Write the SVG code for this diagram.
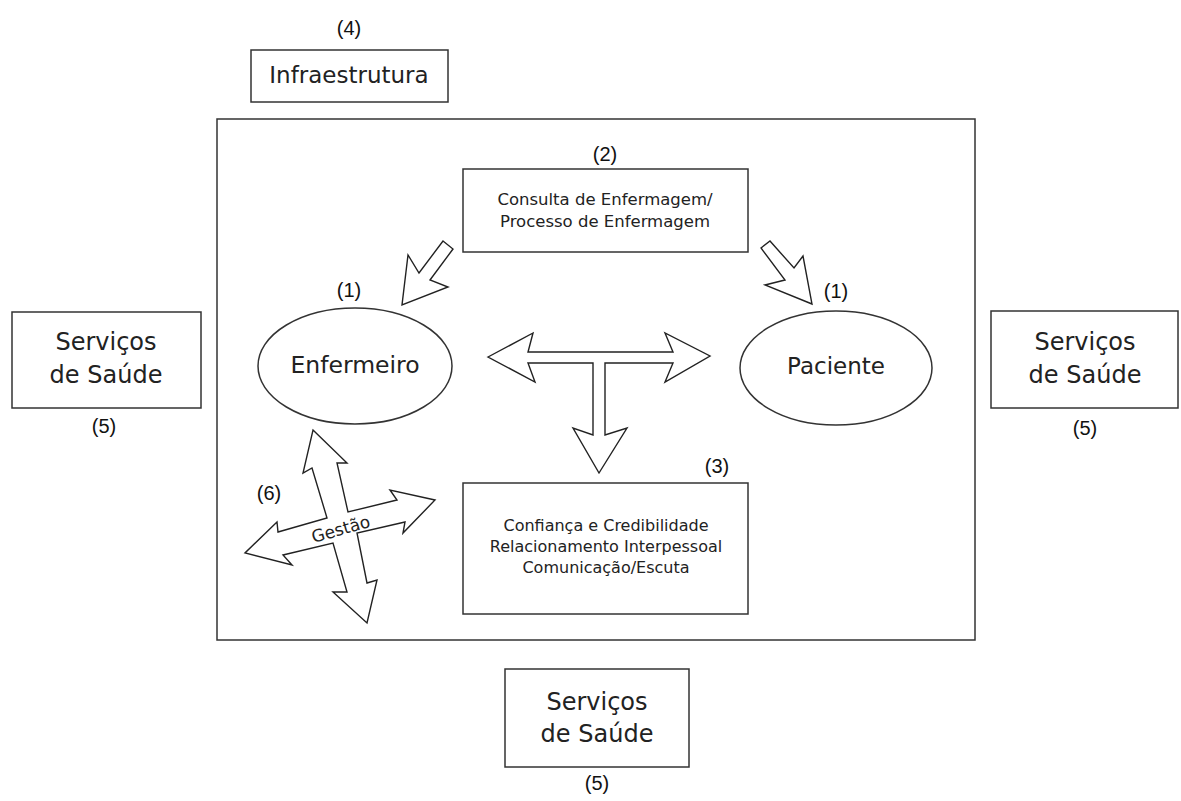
<svg xmlns="http://www.w3.org/2000/svg" width="1181" height="801" viewBox="0 0 1181 801">
<style>
.box{fill:#fff;stroke:#333;stroke-width:1.5}
.frame{fill:none;stroke:#333;stroke-width:1.5}
.arrow{fill:#fff;stroke:#222;stroke-width:1.4;stroke-linejoin:miter}
.t{font-family:"DejaVu Sans",sans-serif;fill:#222;text-anchor:middle}
.n{font-family:"Liberation Sans",Arial,sans-serif;font-size:20px;fill:#111;text-anchor:middle}
</style>
<rect width="1181" height="801" fill="#fff"/>
<g id="frame"><rect class="frame" x="217" y="119" width="758" height="521"/></g>
<g id="infraestrutura">
<text class="n" x="349" y="35">(4)</text>
<rect class="box" x="251" y="50" width="197" height="52"/>
<text class="t" x="349" y="83" font-size="23">Infraestrutura</text>
</g>
<g id="consulta">
<text class="n" x="605" y="161">(2)</text>
<rect class="box" x="463" y="169" width="285" height="83"/>
<text class="t" x="605" y="205" font-size="16.5">Consulta de Enfermagem/</text>
<text class="t" x="605" y="227" font-size="16.5">Processo de Enfermagem</text>
</g>
<g id="enfermeiro">
<text class="n" x="349" y="297">(1)</text>
<ellipse class="box" cx="355" cy="366" rx="97" ry="58"/>
<text class="t" x="355" y="373" font-size="23.5">Enfermeiro</text>
</g>
<g id="paciente">
<text class="n" x="836" y="298">(1)</text>
<ellipse class="box" cx="836" cy="368" rx="96" ry="57"/>
<text class="t" x="836" y="374" font-size="23">Paciente</text>
</g>
<g id="relacionamento">
<text class="n" x="717" y="473">(3)</text>
<rect class="box" x="463" y="483" width="285" height="131"/>
<text class="t" x="606" y="531" font-size="16">Confiança e Credibilidade</text>
<text class="t" x="606" y="552" font-size="16">Relacionamento Interpessoal</text>
<text class="t" x="606" y="573" font-size="16">Comunicação/Escuta</text>
</g>
<g id="servicos-esquerda">
<rect class="box" x="12" y="312" width="189" height="96"/>
<text class="t" x="106" y="350" font-size="24">Serviços</text>
<text class="t" x="106" y="383" font-size="24">de Saúde</text>
<text class="n" x="104" y="433">(5)</text>
</g>
<g id="servicos-direita">
<rect class="box" x="991" y="311" width="187" height="97"/>
<text class="t" x="1085" y="350" font-size="24">Serviços</text>
<text class="t" x="1085" y="383" font-size="24">de Saúde</text>
<text class="n" x="1085" y="435">(5)</text>
</g>
<g id="servicos-baixo">
<rect class="box" x="505" y="669" width="184" height="98"/>
<text class="t" x="597" y="710" font-size="24">Serviços</text>
<text class="t" x="597" y="742" font-size="24">de Saúde</text>
<text class="n" x="597" y="790">(5)</text>
</g>
<g id="connectors">
<polygon class="arrow" points="443,241 453,249 430,280 448,287 402,305 408,255 419,273"/>
<polygon class="arrow" points="761,248 770,241 794,268 803,256 812,304 765,285 785,280"/>
<polygon class="arrow" points="488,357 533,333 528,352 673,352 665,333 710,356 665,382 673,363 605,363 605,435 627,428 599,473 573,428 593,435 593,363 528,363 535,382"/>
<polygon class="arrow" points="313,430 347,463 337,463 348,512 397,500 390,490 435,500 403,533 405,522 357,533 367,583 377,580 367,623 333,592 347,592 333,543 283,555 292,565 245,553 277,522 278,532 327,518 312,468 303,473"/>
<text class="t" x="341" y="535" font-size="17" transform="rotate(-16 341 530)">Gestão</text>
<text class="n" x="269" y="500">(6)</text>
</g>
</svg>
